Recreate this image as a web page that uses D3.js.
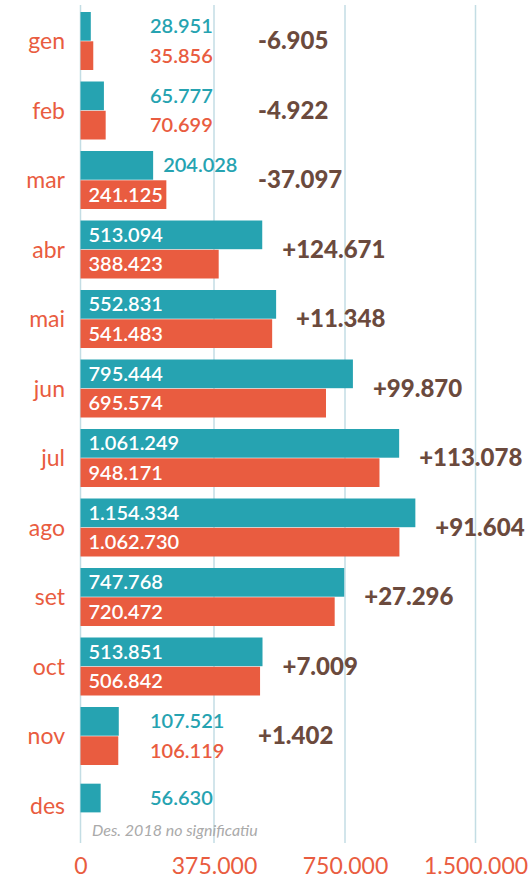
<!DOCTYPE html>
<html>
<head>
<meta charset="utf-8">
<script src="https://cdn.jsdelivr.net/npm/d3@7/dist/d3.min.js"></script>
<style>
  html, body { margin: 0; padding: 0; background: #ffffff; }
  svg { display: block; font-family: Lato, "Open Sans", sans-serif; }
</style>
</head>
<body>
<svg id="chart" width="531" height="879"></svg>
<script>
// ---- data ----
const months = ["gen", "feb", "mar", "abr", "mai", "jun", "jul", "ago", "set", "oct", "nov", "des"];
const values2019 = [28951, 65777, 204028, 513094, 552831, 795444, 1061249, 1154334, 747768, 513851, 107521, 56630];
const values2018 = [35856, 70699, 241125, 388423, 541483, 695574, 948171, 1062730, 720472, 506842, 106119, null];
const tickValues = [0, 375000, 750000, 1500000];
const footnote = "Des. 2018 no significatiu";

// ---- styles / layout ----
const TEAL = "#26a3b1", ORANGE = "#e95c40", BROWN = "#6b4a3d", GRID = "#c3dde4", NOTE = "#aaaaaa";
const svg = d3.select("#chart");

const loc = d3.formatLocale({ decimal: ",", thousands: ".", grouping: [3], currency: ["", "€"] });
const fmt = loc.format(",d");
const fmtSigned = loc.format("+,d");

// broken (polylinear) scale, ticks equally spaced as in the original
const x = d3.scaleLinear()
  .domain(tickValues)
  .range([80.5, 214, 345, 475.5]);

const y = d3.scaleBand()
  .domain(months)
  .range([6.25, 840.25])
  .paddingInner(11.5 / 69.5)
  .paddingOuter(11.5 / 69.5 / 2);

const series = ["2019", "2018"];
const ySub = d3.scaleBand().domain(series).range([0, y.bandwidth()]).paddingInner(0.02);
const colors = { "2019": TEAL, "2018": ORANGE };

const rows = months.map((m, i) => ({
  month: m,
  v2019: values2019[i],
  v2018: values2018[i],
  diff: values2018[i] == null ? null : values2019[i] - values2018[i]
}));

// gridlines
svg.append("g").selectAll("line")
  .data(tickValues)
  .join("line")
  .attr("x1", d => x(d)).attr("x2", d => x(d))
  .attr("y1", 5).attr("y2", 843)
  .attr("stroke", GRID).attr("stroke-width", 1.5);

// bars + value labels
const groups = svg.append("g").selectAll("g")
  .data(rows)
  .join("g")
  .attr("transform", d => `translate(0,${y(d.month)})`);

groups.each(function (d) {
  const g = d3.select(this);
  const bars = series
    .map(s => ({ s, v: s === "2019" ? d.v2019 : d.v2018 }))
    .filter(b => b.v != null);
  const single = bars.length === 1;
  bars.forEach(b => {
    const top = ySub(b.s) + (single ? ySub.bandwidth() / 4 : 0);
    const h = ySub.bandwidth();
    const x0 = x(0), x1 = x(b.v);
    g.append("rect")
      .attr("x", x0).attr("y", top)
      .attr("width", x1 - x0).attr("height", h)
      .attr("fill", colors[b.s]);
    const inside = (x1 - x0) > 80;
    g.append("text")
      .attr("x", inside ? x0 + 8 : Math.max(150, x1 + 10))
      .attr("y", top + h / 2)
      .attr("dy", "0.35em")
      .attr("font-size", 20)
      .attr("font-weight", 600)
      .attr("fill", inside ? "#ffffff" : colors[b.s])
      .text(fmt(b.v));
  });

  // month label
  g.append("text")
    .attr("x", 65)
    .attr("y", y.bandwidth() / 2)
    .attr("dy", "0.35em")
    .attr("text-anchor", "end")
    .attr("font-size", 23)
    .attr("fill", ORANGE)
    .text(d.month);

  // difference label
  if (d.diff != null) {
    const maxEnd = d3.max(bars, b => x(b.v));
    g.append("text")
      .attr("x", Math.max(maxEnd + 20, 258))
      .attr("y", y.bandwidth() / 2)
      .attr("dy", "0.35em")
      .attr("font-size", 24)
      .attr("font-weight", 900)
      .attr("fill", BROWN)
      .text(d.diff < 0 ? fmt(d.diff).replace("−", "-") : fmtSigned(d.diff));
  }
});

// footnote
svg.append("text")
  .attr("x", 92).attr("y", 836)
  .attr("font-size", 16)
  .attr("font-style", "italic")
  .attr("fill", NOTE)
  .text(footnote);

// x axis
const axis = svg.append("g")
  .attr("transform", "translate(0,852)")
  .call(d3.axisBottom(x).tickValues(tickValues).tickFormat(fmt).tickSize(0).tickPadding(6));
axis.select(".domain").remove();
axis.selectAll("text")
  .attr("font-family", "Lato, 'Open Sans', sans-serif")
  .attr("font-size", 23)
  .attr("fill", ORANGE);
</script>
</body>
</html>
